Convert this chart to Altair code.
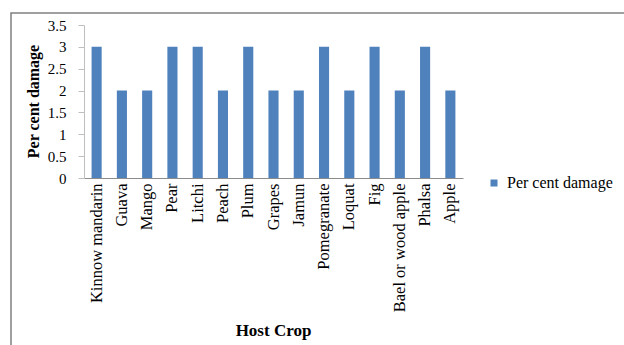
import altair as alt
import pandas as pd

crops = ["Kinnow mandarin", "Guava", "Mango", "Pear", "Litchi", "Peach", "Plum",
         "Grapes", "Jamun", "Pomegranate", "Loquat", "Fig", "Bael or wood apple",
         "Phalsa", "Apple"]
damage = [3, 2, 2, 3, 3, 2, 3, 2, 2, 3, 2, 3, 2, 3, 2]
series = "Per cent damage"
y_ticks = [0, 0.5, 1, 1.5, 2, 2.5, 3, 3.5]

df = pd.DataFrame({"crop": crops, "damage": damage, "series": [series] * len(crops)})

FONT = "Liberation Serif"

frame = alt.Chart(pd.DataFrame({"a": [0]})).mark_rect(
    fill=None, stroke="#808080", strokeWidth=1.5
).encode(
    x=alt.value(-73), x2=alt.value(700), y=alt.value(-12), y2=alt.value(400)
)

bars = alt.Chart(df).mark_bar(color="#4F81BD").encode(
    x=alt.X("crop:N", sort=crops,
            scale=alt.Scale(paddingInner=0.6, paddingOuter=0.3),
            axis=alt.Axis(title="Host Crop", labelAngle=-90, ticks=False,
                          labelPadding=5, labelFont=FONT, labelFontSize=16.5,
                          labelColor="#000", domainColor="#8c8c8c",
                          titleFont=FONT, titleFontSize=17, titleFontWeight="bold",
                          titleColor="#000", titleX=189, titleY=152,
                          titleBaseline="middle", titleAlign="center")),
    y=alt.Y("damage:Q", scale=alt.Scale(domain=[0, 3.5], nice=False),
            axis=alt.Axis(title="Per cent damage", values=y_ticks, format="~g",
                          grid=False, tickSize=6, tickColor="#bfbfbf",
                          domainColor="#bfbfbf", labelPadding=12,
                          labelFont=FONT, labelFontSize=15, labelColor="#000",
                          titleFont=FONT, titleFontSize=16, titleFontWeight="bold",
                          titleColor="#000", titleX=-51, titleY=76,
                          titleAngle=-90, titleBaseline="middle", titleAlign="center")),
    color=alt.Color("series:N", scale=alt.Scale(range=["#4F81BD"]),
                    legend=alt.Legend(title=None, orient="none", legendX=402,
                                      legendY=150, symbolType="square",
                                      symbolSize=49, symbolStrokeWidth=0,
                                      labelFont=FONT, labelFontSize=16,
                                      labelColor="#000", labelOffset=5))
)

chart = alt.layer(frame, bars).properties(
    width=379, height=153,
    autosize=alt.AutoSizeParams(type="none"),
    padding={"left": 84, "top": 25, "right": 161, "bottom": 167},
    background="white"
).configure_view(stroke=None)

chart.save("out.html", embed_options={"renderer": "svg", "actions": False})
